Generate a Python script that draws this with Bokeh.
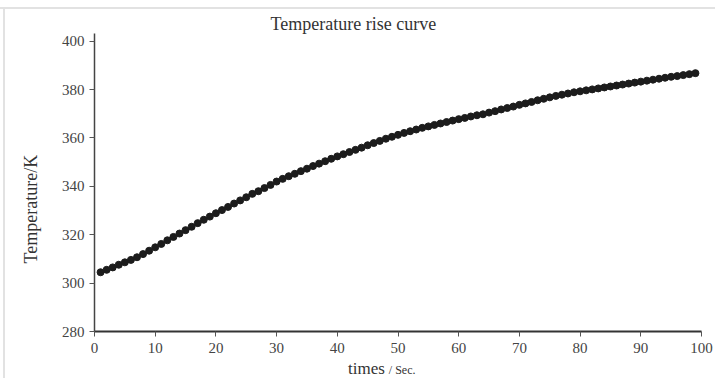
from bokeh.plotting import figure
from bokeh.models import Range1d, Title, Div
from bokeh.layouts import column
from bokeh.embed import file_html
from bokeh.resources import INLINE

# ---- data ----
time_s = list(range(1, 100))
temperature_k = [
    304.5, 305.5, 306.5, 307.6, 308.6, 309.6, 310.7, 312.0, 313.4, 314.8,
    316.2, 317.7, 319.1, 320.5, 321.9, 323.3, 324.8, 326.2, 327.5, 328.9,
    330.2, 331.5, 332.9, 334.2, 335.5, 336.9, 338.0, 339.3, 340.6, 342.0,
    343.1, 344.2, 345.2, 346.3, 347.3, 348.4, 349.4, 350.4, 351.4, 352.4,
    353.3, 354.2, 355.1, 356.0, 357.0, 357.9, 358.8, 359.7, 360.5, 361.3,
    362.1, 362.8, 363.5, 364.2, 364.8, 365.4, 366.0, 366.6, 367.2, 367.8,
    368.3, 368.9, 369.4, 369.8, 370.5, 371.1, 371.8, 372.4, 373.0, 373.7,
    374.3, 374.9, 375.6, 376.2, 376.8, 377.4, 377.9, 378.4, 378.9, 379.3,
    379.7, 380.1, 380.5, 380.9, 381.3, 381.7, 382.1, 382.5, 382.9, 383.3,
    383.7, 384.1, 384.5, 384.9, 385.3, 385.6, 386.0, 386.4, 386.8,
]
x_ticks = [0, 10, 20, 30, 40, 50, 60, 70, 80, 90, 100]
y_ticks = [280, 300, 320, 340, 360, 380, 400]

title_text = "Temperature rise curve"
x_label_main = "times"
x_label_unit = "/ Sec."
y_label = "Temperature/K"

FONT = "Liberation Serif"
FRAME_GRAY = "#e2e2e2"
LEFT_EDGE_BG = f"linear-gradient(to right, white 3px, {FRAME_GRAY} 3px, {FRAME_GRAY} 5px, white 5px)"

p = figure(width=715, height=349, output_backend="svg", toolbar_location=None,
           x_range=Range1d(0, 100), y_range=Range1d(280, 403.2),
           min_border_left=94, min_border_right=14,
           min_border_top=24, min_border_bottom=27)
p.styles = {"background": LEFT_EDGE_BG}

p.title.text = title_text
p.title.align = "left"
p.title.offset = 176
p.title.standoff = 0
p.title.text_font = FONT
p.title.text_font_size = "18px"
p.title.text_font_style = "normal"
p.title.text_color = "#333333"

p.outline_line_color = None
p.xgrid.visible = False
p.ygrid.visible = False
p.background_fill_color = "white"
p.border_fill_color = None

for ax in (p.xaxis[0], p.yaxis[0]):
    ax.major_tick_out = 5
    ax.major_tick_in = 0
    ax.minor_tick_out = 0
    ax.minor_tick_in = 0
    ax.major_tick_line_color = "#555555"
    ax.major_label_text_font = FONT
    ax.major_label_text_font_size = "15px"
    ax.major_label_text_color = "#444444"

p.xaxis.ticker = x_ticks
p.yaxis.ticker = y_ticks
p.xaxis.axis_line_width = 2
p.xaxis.axis_line_color = "#333333"
p.yaxis.axis_line_width = 1.5
p.yaxis.axis_line_color = "#444444"
p.xaxis.major_label_standoff = 6
p.yaxis.major_label_standoff = 5

p.scatter(time_s, temperature_k, size=7, color="#1c1c1c", line_color="#1c1c1c")

# y-axis title, placed in the left panel
ytitle = Title(text=y_label, align="left", offset=68, standoff=36,
               text_font=FONT, text_font_size="18px", text_font_style="normal",
               text_color="#333333")
p.add_layout(ytitle, "left")

# x-axis title (two sizes) as HTML text under the plot
xdiv = Div(
    text=(f'<span style="font-family:\'{FONT}\';font-size:17px;color:#333333">{x_label_main}</span>'
          f'<span style="font-family:\'{FONT}\';font-size:12px;color:#333333;margin-left:4px">{x_label_unit}</span>'),
    width=715, height=20, margin=(0, 0, 0, 0),
    styles={"padding-left": "348px", "line-height": "22px", "white-space": "nowrap",
            "background": LEFT_EDGE_BG},
)

# light grey page frame (top edge)
top_edge = Div(text="", width=715, height=9, margin=(0, 0, 0, 0),
               styles={"background": f"linear-gradient(to bottom, white 7px, {FRAME_GRAY} 7px)"})

layout = column(top_edge, p, xdiv, spacing=0, margin=(0, 0, 0, 0))

open("out.html", "w").write(file_html(layout, INLINE))
